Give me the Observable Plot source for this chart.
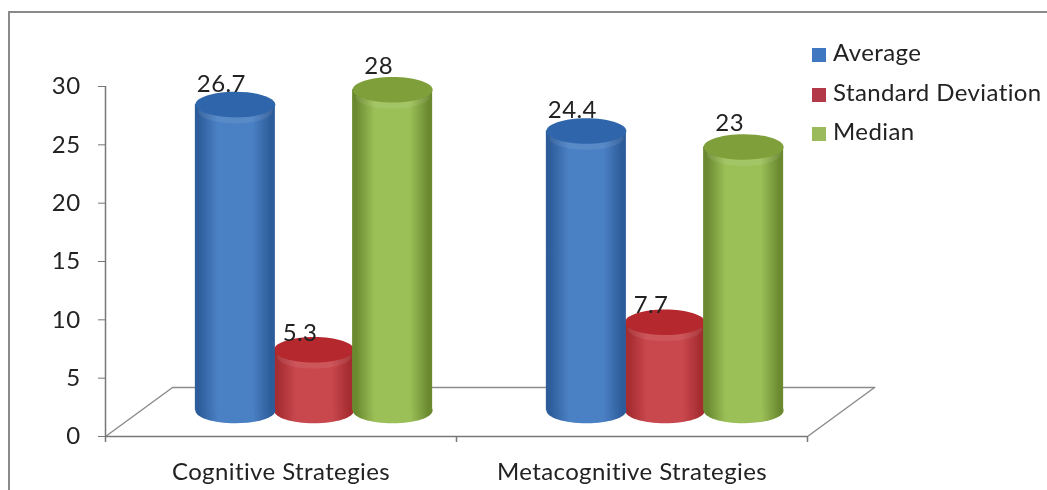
<!DOCTYPE html>
<html>
<head>
<meta charset="utf-8">
<script src="https://cdn.jsdelivr.net/npm/d3@7"></script>
<script src="https://cdn.jsdelivr.net/npm/@observablehq/plot@0.6"></script>
<style>
  html, body { margin: 0; padding: 0; background: #fff; width: 1047px; height: 490px; overflow: hidden; }
  #wrap { position: relative; width: 1047px; height: 490px; }
  #frame { position: absolute; left: 8px; top: 11px; right: 0; bottom: 0; border-left: 2px solid #8a8a8a; border-top: 2px solid #8a8a8a; pointer-events: none; }
  #legend { position: absolute; left: 812px; top: 32px; font: 24px Lato, sans-serif; color: #222; letter-spacing: 0.4px; filter: blur(0.4px); }
  #legend div { height: 39.5px; line-height: 39.5px; white-space: nowrap; }
  #legend i { display: inline-block; width: 14px; height: 14px; margin-right: 7px; vertical-align: -1px; }
  svg { display: block; }
</style>
</head>
<body>
<div id="wrap"><div id="frame"></div><div id="legend"></div></div>
<script>
const categories = ["Cognitive Strategies", "Metacognitive Strategies"];
const seriesNames = ["Average", "Standard Deviation", "Median"];
const average = [26.7, 24.4];
const standardDeviation = [5.3, 7.7];
const median = [28, 23];
const yTicks = [0, 5, 10, 15, 20, 25, 30];

const seriesValues = [average, standardDeviation, median];
const palette = [
  {id: "blue",  edge: "#2d5c9a", mid: "#4a80c4", cap: "#2f66ab", swatch: "#3f78c0"},
  {id: "red",   edge: "#a52c30", mid: "#c9484e", cap: "#b5282e", swatch: "#b23a48"},
  {id: "green", edge: "#6b8a30", mid: "#9cc058", cap: "#7f9f3a", swatch: "#9aba5c"}
];

// 3-D projection of the chart's depth, in the units of the x and y scales
const depthX = 0.094, step = 0.224, barW = 0.228;
const floorV = 2.23, shrink = 0.982;
const floorDepthX = 0.191, floorDepthY = 4.2;
const proj = v => floorV + v * shrink;
const center = (c, s) => c + 0.5 + depthX + (s - 1) * step;

const ellipse = {
  draw(ctx, size) {
    const rx = Math.sqrt(size / Math.PI), ry = rx * 0.32, k = 0.5523;
    ctx.moveTo(-rx, 0);
    ctx.bezierCurveTo(-rx, -ry * k, -rx * k, -ry, 0, -ry);
    ctx.bezierCurveTo(rx * k, -ry, rx, -ry * k, rx, 0);
    ctx.bezierCurveTo(rx, ry * k, rx * k, ry, 0, ry);
    ctx.bezierCurveTo(-rx * k, ry, -rx, ry * k, -rx, 0);
    ctx.closePath();
  }
};

const defs = () => {
  const svg = d3.create("svg:defs");
  for (const p of palette) {
    const g = svg.append("linearGradient").attr("id", "grad-" + p.id).attr("x1", 0).attr("x2", 1).attr("y1", 0).attr("y2", 0);
    [[0, p.edge], [0.05, p.edge], [0.28, p.mid], [0.72, p.mid], [0.95, p.edge], [1, p.edge]].forEach(([o, c]) =>
      g.append("stop").attr("offset", o).attr("stop-color", c));
  }
  return svg.node();
};

const fontFamily = "Lato, sans-serif";
const cylinders = [];
const labels = [];
const labelShift = [[-14, -13], [-14, -9], [-14, -16]];
for (const s of [1, 0, 2]) {
  const p = palette[s];
  const rows = categories.map((c, i) => ({c: i, v: seriesValues[s][i]}));
  cylinders.push(
    Plot.dot(rows, {x: d => center(d.c, s), y: () => proj(0), r: 40, symbol: ellipse, fill: `url(#grad-${p.id})`}),
    Plot.rectY(rows, {
      x1: d => center(d.c, s) - barW / 2,
      x2: d => center(d.c, s) + barW / 2,
      y1: () => proj(0),
      y2: d => proj(d.v),
      fill: `url(#grad-${p.id})`
    }),
    Plot.dot(rows, {x: d => center(d.c, s), y: d => proj(d.v), r: 37, dy: 7, symbol: ellipse, fill: "#fff", fillOpacity: 0.08}),
    Plot.dot(rows, {x: d => center(d.c, s), y: d => proj(d.v), r: 40, symbol: ellipse, fill: p.cap})
  );
  labels.push(
    Plot.text(rows, {
      x: d => center(d.c, s), y: d => proj(d.v), text: d => String(d.v),
      dx: labelShift[s][0], dy: labelShift[s][1], lineAnchor: "bottom",
      fontSize: 24, fontFamily, fill: "#222"
    })
  );
}

const floor = [
  [[0, 0], [floorDepthX, floorDepthY]],
  [[floorDepthX, floorDepthY], [2 + floorDepthX, floorDepthY]],
  [[2 + floorDepthX, floorDepthY], [2, 0]]
];

const chart = Plot.plot({
  width: 1047,
  height: 490,
  marginLeft: 105,
  marginRight: 240,
  marginTop: 86,
  marginBottom: 54,
  style: {background: "transparent", fontFamily, letterSpacing: "0.4px", filter: "blur(0.5px)"},
  x: {type: "linear", domain: [0, 2], axis: null},
  y: {type: "linear", domain: [0, 30], axis: null},
  marks: [
    defs,
    ...floor.map(seg => Plot.line(seg, {x: d => d[0], y: d => d[1], stroke: "#8c8c8c", strokeWidth: 1.5})),
    Plot.ruleX([0], {y1: 0, y2: 30, stroke: "#777", strokeWidth: 1.5}),
    Plot.ruleY([0], {x1: 0, x2: 2, stroke: "#777", strokeWidth: 1.5}),
    Plot.axisY({ticks: yTicks, tickSize: 7, tickPadding: 18, fontSize: 24, fontFamily, label: null, stroke: "#777", fill: "#222"}),
    Plot.axisX({ticks: [0, 1, 2], tickSize: 6, tickFormat: () => "", label: null, stroke: "#777", strokeWidth: 1.5}),
    ...cylinders,
    ...labels,
    Plot.text(categories, {
      x: (d, i) => i + 0.5, y: () => 0, text: d => d, dy: 36,
      fontSize: 24, fontFamily, fill: "#222"
    })
  ]
});
chart.style.position = "absolute";
chart.style.left = "0";
chart.style.top = "0";
const wrap = document.getElementById("wrap");
wrap.insertBefore(chart, wrap.firstChild);

const legend = document.getElementById("legend");
seriesNames.forEach((name, i) => {
  const row = document.createElement("div");
  const sw = document.createElement("i");
  sw.style.background = palette[i].swatch;
  row.append(sw, name);
  legend.append(row);
});
</script>
</body>
</html>
